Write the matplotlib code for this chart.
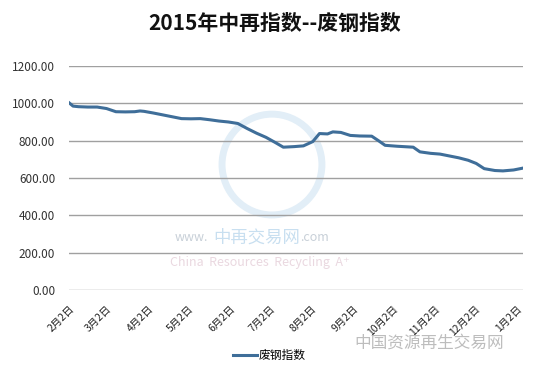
import numpy as np
import pandas as pd
import matplotlib
matplotlib.use("Agg")
import matplotlib.pyplot as plt
from matplotlib.patches import Ellipse

plt.rcParams['font.family'] = ['Noto Sans CJK SC', 'DejaVu Sans']

# values (day offset from 2015-02-02, index value)
day_offsets = [0, 3, 7, 14, 21, 28, 35, 42, 49, 53, 56, 63, 70, 77, 84, 91, 98,
               105, 112, 119, 126, 133, 140, 147, 154, 160, 168, 175, 182, 187,
               193, 197, 203, 210, 217, 226, 231, 236, 245, 257, 262, 270, 277,
               284, 291, 298, 304, 310, 318, 324, 332, 339]
scrap_index = [1003, 985, 982, 980, 980, 972, 955, 954, 955, 959, 957, 948, 938,
               928, 918, 917, 918, 912, 905, 900, 892, 865, 840, 818, 790, 765,
               768, 772, 795, 838, 836, 847, 844, 828, 825, 824, 800, 775, 770,
               765, 740, 732, 728, 718, 708, 695, 678, 650, 640, 638, 643, 653]
tick_dates = ['2015-02-02', '2015-03-02', '2015-04-02', '2015-05-02', '2015-06-02',
              '2015-07-02', '2015-08-02', '2015-09-02', '2015-10-02', '2015-11-02',
              '2015-12-02', '2016-01-02']
y_ticks = [0, 200, 400, 600, 800, 1000, 1200]

dates = pd.Timestamp('2015-02-02') + pd.to_timedelta(day_offsets, unit='D')
ticks = pd.to_datetime(tick_dates)

fig = plt.figure(figsize=(5.5, 3.74), dpi=100)
ax = fig.add_axes([0.1255, 0.2246, 0.8255, 0.599])

ax.plot(dates, scrap_index, color='#3f6e99', lw=2.2, label='废钢指数', zorder=3)

ax.set_xlim(dates[0], dates[-1])
ax.set_ylim(0, 1200)
ax.set_yticks(y_ticks)
ax.set_yticklabels(['%.2f' % v for v in y_ticks], fontsize=8.5, color='#333333')
ax.set_xticks(ticks)
ax.set_xticklabels(['%d月%d日' % (t.month, t.day) for t in ticks], rotation=45,
                   ha='right', rotation_mode='anchor', fontsize=7.5, color='#222222')
ax.tick_params(axis='y', length=0, pad=10)
ax.tick_params(axis='x', length=0, pad=10)
ax.grid(axis='y', color='#a0a0a0', lw=1.0)
for s in ax.spines.values():
    s.set_visible(False)

# faint watermark logo and text
ax.add_patch(Ellipse((0.447, 0.56), 0.22, 0.45, transform=ax.transAxes,
                     fill=False, ec='#e2eef7', lw=5, zorder=1))
fig.text(0.318, 0.364, 'www.', fontsize=9, color='#c8d0d8', va='center')
fig.text(0.387, 0.364, '中再交易网', fontsize=12.5, color='#c8dff0', va='center')
fig.text(0.545, 0.364, '.com', fontsize=9, color='#c8d0d8', va='center')
fig.text(0.31, 0.298, 'China  Resources  Recycling  A⁺', fontsize=9,
         color='#ead8e0', va='center')
fig.text(0.645, 0.082, '中国资源再生交易网', fontsize=12, color='#bdbdbd', va='center')

fig.suptitle('2015年中再指数--废钢指数', x=0.5, y=0.965, fontsize=15,
             fontweight='bold', color='#111111')
fig.legend(loc='center', bbox_to_anchor=(0.49, 0.05), frameon=False, fontsize=8.5,
           handlelength=2.0, handletextpad=0.2)

fig.savefig('out.png', dpi=100)
